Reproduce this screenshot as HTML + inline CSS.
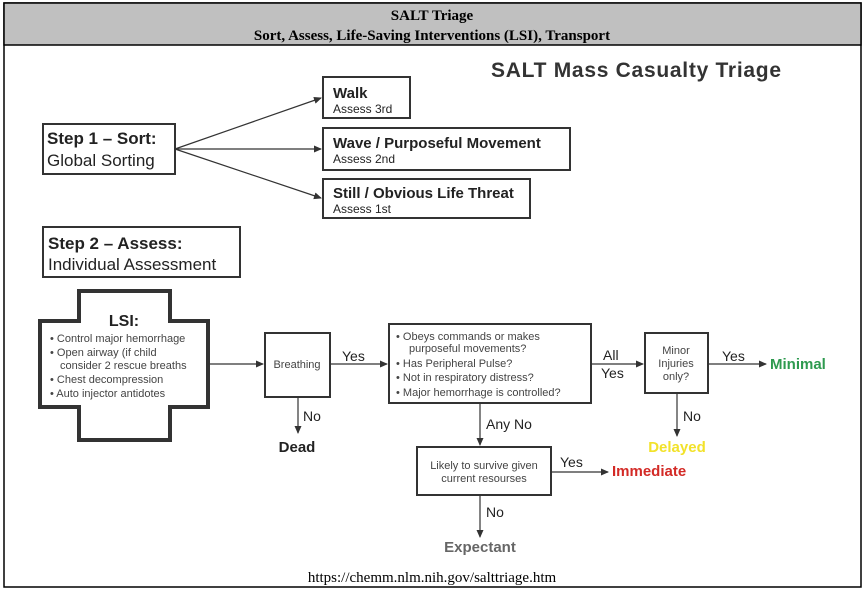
<!DOCTYPE html>
<html><head><meta charset="utf-8"><style>
body{margin:0;background:#fff;}
svg{display:block;font-family:"Liberation Sans",sans-serif;}
</style></head><body>
<svg width="864" height="590" viewBox="0 0 864 590" xmlns="http://www.w3.org/2000/svg">
<defs><marker id="a" markerWidth="8" markerHeight="8" refX="7" refY="4" orient="auto" markerUnits="userSpaceOnUse"><path d="M0,0.5 L8,4 L0,7.5z" fill="#333"/></marker></defs>
<rect x="4" y="3" width="857" height="584" fill="#fff" stroke="#000" stroke-width="1.5"/>
<rect x="4" y="3" width="857" height="42" fill="#c0c0c0" stroke="#000" stroke-width="1.5"/>
<g font-family="Liberation Serif,serif" font-weight="bold" font-size="15" text-anchor="middle" fill="#000">
<text x="432" y="20">SALT Triage</text>
<text x="432" y="40">Sort, Assess, Life-Saving Interventions (LSI), Transport</text>
</g>
<text x="432" y="582" font-family="Liberation Serif,serif" font-size="15" text-anchor="middle">https://chemm.nlm.nih.gov/salttriage.htm</text>
<text x="636" y="77" font-size="21" font-weight="bold" text-anchor="middle" fill="#333" textLength="290">SALT Mass Casualty Triage</text>
<g fill="none" stroke="#333" stroke-width="2">
<rect x="43" y="124" width="132" height="50"/>
<rect x="323" y="77" width="87" height="41"/>
<rect x="323" y="128" width="247" height="42"/>
<rect x="323" y="179" width="207" height="39"/>
<rect x="43" y="227" width="197" height="50"/>
<rect x="265" y="333" width="65" height="64"/>
<rect x="389" y="324" width="202" height="79"/>
<rect x="645" y="333" width="63" height="60"/>
<rect x="417" y="447" width="134" height="48"/>
<path d="M79,291 H170 V321 H208 V407 H170 V440 H79 V407 H40 V321 H79 Z" stroke-width="4"/>
</g>
<g stroke="#333" stroke-width="1.2" marker-end="url(#a)">
<line x1="175" y1="149" x2="321" y2="98"/>
<line x1="175" y1="149" x2="321" y2="149"/>
<line x1="175" y1="149" x2="321" y2="198"/>
<line x1="208" y1="364" x2="263" y2="364"/>
<line x1="330" y1="364" x2="387" y2="364"/>
<line x1="298" y1="397" x2="298" y2="433"/>
<line x1="591" y1="364" x2="643" y2="364"/>
<line x1="708" y1="364" x2="766" y2="364"/>
<line x1="677" y1="393" x2="677" y2="436"/>
<line x1="480" y1="403" x2="480" y2="445"/>
<line x1="551" y1="472" x2="608" y2="472"/>
<line x1="480" y1="495" x2="480" y2="537"/>
</g>
<g fill="#222">
<text x="47" y="144" font-size="17" font-weight="bold">Step 1 – Sort:</text>
<text x="47" y="166" font-size="17">Global Sorting</text>
<text x="333" y="98" font-size="15" font-weight="bold">Walk</text>
<text x="333" y="113" font-size="12">Assess 3rd</text>
<text x="333" y="148" font-size="15" font-weight="bold">Wave / Purposeful Movement</text>
<text x="333" y="163" font-size="12">Assess 2nd</text>
<text x="333" y="198" font-size="15" font-weight="bold">Still / Obvious Life Threat</text>
<text x="333" y="213" font-size="12">Assess 1st</text>
<text x="48" y="249" font-size="17" font-weight="bold">Step 2 – Assess:</text>
<text x="48" y="270" font-size="17">Individual Assessment</text>
<text x="124" y="326" font-size="16" font-weight="bold" text-anchor="middle">LSI:</text>
<g font-size="11" fill="#444">
<text x="50" y="342">• Control major hemorrhage</text>
<text x="50" y="356">• Open airway (if child</text>
<text x="60" y="369">consider 2 rescue breaths</text>
<text x="50" y="383">• Chest decompression</text>
<text x="50" y="397">• Auto injector antidotes</text>
<text x="297" y="368" text-anchor="middle">Breathing</text>
<text x="396" y="340">• Obeys commands or makes</text>
<text x="409" y="352">purposeful movements?</text>
<text x="396" y="367">• Has Peripheral Pulse?</text>
<text x="396" y="381">• Not in respiratory distress?</text>
<text x="396" y="396">• Major hemorrhage is controlled?</text>
<text x="676" y="354" text-anchor="middle">Minor</text>
<text x="676" y="367" text-anchor="middle">Injuries</text>
<text x="676" y="380" text-anchor="middle">only?</text>
<text x="484" y="469" text-anchor="middle">Likely to survive given</text>
<text x="484" y="482" text-anchor="middle">current resourses</text>
</g>
<g font-size="14">
<text x="342" y="361">Yes</text>
<text x="303" y="421">No</text>
<text x="603" y="360">All</text>
<text x="601" y="378">Yes</text>
<text x="722" y="361">Yes</text>
<text x="683" y="421">No</text>
<text x="486" y="429">Any No</text>
<text x="560" y="467">Yes</text>
<text x="486" y="517">No</text>
</g>
<text x="297" y="452" font-size="15" font-weight="bold" text-anchor="middle">Dead</text>
<text x="770" y="369" font-size="15" font-weight="bold" fill="#2e9a4f">Minimal</text>
<text x="677" y="452" font-size="15" font-weight="bold" fill="#f2e22a" text-anchor="middle">Delayed</text>
<text x="612" y="476" font-size="15" font-weight="bold" fill="#d32a26">Immediate</text>
<text x="480" y="552" font-size="15" font-weight="bold" fill="#666" text-anchor="middle">Expectant</text>
</g>
</svg>
</body></html>
